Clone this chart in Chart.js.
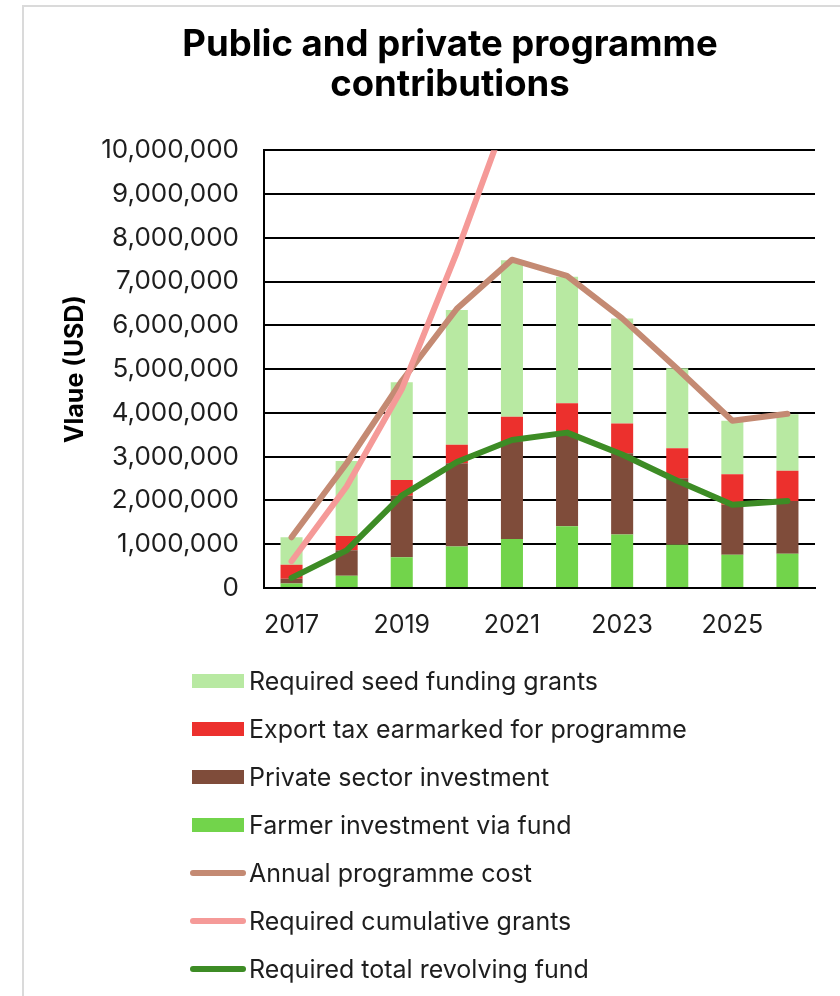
<!DOCTYPE html>
<html>
<head>
<meta charset="utf-8">
<script src="https://cdn.jsdelivr.net/npm/chart.js@4/dist/chart.umd.min.js"></script>
<style>
  html, body { margin: 0; padding: 0; background: #fff; overflow: hidden; }
  #wrap { position: relative; width: 840px; height: 996px; }
  #frame { position: absolute; left: 22px; top: 5px; width: 900px; height: 1100px;
           border-top: 2px solid #dadada; border-left: 2px solid #dadada; }
  canvas { position: absolute; left: 0; top: 0; }
  #legend { position: absolute; left: 188px; top: 657px; font-family: Inter, sans-serif;
            font-size: 25px; color: #1e1e1e; }
  .row { display: flex; align-items: center; height: 48px; }
  .sw { width: 58px; height: 48px; position: relative; }
  .sw .box { position: absolute; left: 4px; top: 17px; width: 52px; height: 14px; }
  .sw .ln { position: absolute; left: 2px; top: 21px; width: 56px; height: 6px; border-radius: 3px; }
  .txt { margin-left: 3px; white-space: nowrap; }
</style>
</head>
<body>
<div id="wrap">
  <div id="frame"></div>
  <canvas id="chart" width="840" height="996"></canvas>
  <div id="legend"></div>
</div>
<script>
// Programme years
const years = ['2017', '2018', '2019', '2020', '2021', '2022', '2023', '2024', '2025', '2026'];

// Stacked contributions (USD)
const farmerInvestment = [100000, 280000, 700000, 950000, 1120000, 1410000, 1220000, 990000, 760000, 780000];
const privateInvestment = [110000, 580000, 1410000, 1900000, 2230000, 2090000, 1860000, 1520000, 1140000, 1210000];
const exportTax = [320000, 330000, 360000, 420000, 560000, 720000, 680000, 680000, 700000, 690000];
const seedGrants = [630000, 1710000, 2230000, 3080000, 3580000, 2890000, 2400000, 1830000, 1220000, 1290000];

// Line series (USD)
const annualCost = [1160000, 2850000, 4730000, 6380000, 7500000, 7130000, 6160000, 5010000, 3820000, 3980000];
const cumulativeGrants = [610000, 2320000, 4540000, 7670000, 11100000, 14000000, 16400000, 18200000, 19400000, 20700000];
const revolvingFund = [230000, 860000, 2110000, 2880000, 3380000, 3550000, 3050000, 2450000, 1900000, 1990000];

// Axis range
const yMin = 0;
const yMax = 10000000;
const yStep = 1000000;

const FONT = 'Inter, sans-serif';

function barSet(label, data, color) {
  return { type: 'bar', label, data, backgroundColor: color, borderWidth: 0,
           stack: 'contrib', order: 4, barPercentage: 0.4, categoryPercentage: 1.0 };
}
function lineSet(label, data, color, stack, order) {
  return { type: 'line', label, data, borderColor: color, backgroundColor: color,
           borderWidth: 6, pointRadius: 0, pointHoverRadius: 0, tension: 0,
           borderCapStyle: 'round', borderJoinStyle: 'round', fill: false,
           stack, order };
}

const datasets = [
  barSet('Farmer investment via fund', farmerInvestment, '#72d44b'),
  barSet('Private sector investment', privateInvestment, '#7f4c3a'),
  barSet('Export tax earmarked for programme', exportTax, '#ec302d'),
  barSet('Required seed funding grants', seedGrants, '#b8e9a2'),
  lineSet('Annual programme cost', annualCost, '#c48a73', 'cost', 3),
  lineSet('Required cumulative grants', cumulativeGrants, '#f59a98', 'grants', 2),
  lineSet('Required total revolving fund', revolvingFund, '#3d8c25', 'fund', 1)
];

const chart = new Chart(document.getElementById('chart'), {
  data: { labels: years, datasets },
  options: {
    responsive: false,
    animation: false,
    layout: { padding: { left: 85, right: 25, top: 0, bottom: 358 } },
    plugins: {
      legend: { display: false },
      tooltip: { enabled: false },
      title: {
        display: true,
        text: ['Public and private programme', 'contributions'],
        color: '#000',
        font: { family: FONT, size: 36.5, weight: '700', lineHeight: 1.1 },
        padding: { top: 25, bottom: 45 }
      }
    },
    scales: {
      x: {
        stacked: true,
        grid: { display: false, drawTicks: false },
        border: { display: true, color: '#000', width: 2 },
        ticks: {
          color: '#1e1e1e', font: { family: FONT, size: 25 }, padding: 22,
          autoSkip: false, maxRotation: 0,
          callback: function (value, index) { return index % 2 === 0 ? this.getLabelForValue(value) : ''; }
        },
        afterFit: (scale) => { scale.height = 50; }
      },
      y: {
        stacked: true,
        min: yMin, max: yMax,
        grid: { color: '#000', lineWidth: 2, drawTicks: false },
        border: { display: true, color: '#000', width: 2 },
        ticks: {
          stepSize: yStep, color: '#1e1e1e', font: { family: FONT, size: 26 }, padding: 25,
          callback: (v) => Number(v).toLocaleString('en-US')
        },
        title: {
          display: true, text: 'Vlaue (USD)', color: '#000',
          font: { family: FONT, size: 25, weight: '700' }, padding: { top: -25, bottom: 0 }
        },
        afterFit: (scale) => { scale.width = 179; }
      }
    }
  }
});

// Legend: bar series top-down as stacked, then the lines
const legendOrder = [3, 2, 1, 0, 4, 5, 6];
const legendEl = document.getElementById('legend');
legendOrder.forEach((i) => {
  const ds = chart.data.datasets[i];
  const row = document.createElement('div');
  row.className = 'row';
  const sw = document.createElement('div');
  sw.className = 'sw';
  const mark = document.createElement('div');
  mark.className = ds.type === 'bar' ? 'box' : 'ln';
  mark.style.background = ds.type === 'bar' ? ds.backgroundColor : ds.borderColor;
  sw.appendChild(mark);
  const txt = document.createElement('span');
  txt.className = 'txt';
  txt.textContent = ds.label;
  row.appendChild(sw);
  row.appendChild(txt);
  legendEl.appendChild(row);
});
</script>
</body>
</html>
